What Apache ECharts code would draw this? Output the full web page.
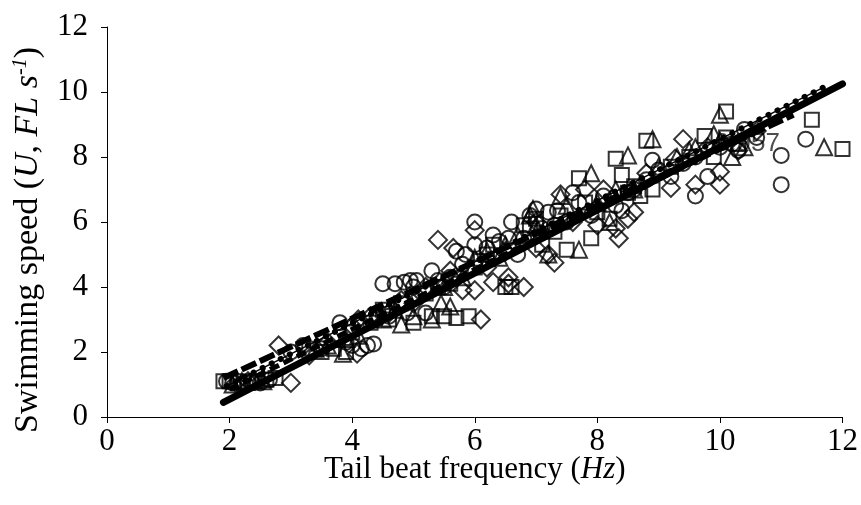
<!DOCTYPE html>
<html><head><meta charset="utf-8">
<script src="https://cdn.jsdelivr.net/npm/echarts@6/dist/echarts.min.js"></script>
<style>html,body{margin:0;padding:0;background:#fff}#c{width:861px;height:505px}</style>
</head><body><div id="c"></div>
<script>
const xTicks = [0, 2, 4, 6, 8, 10, 12];
const yTicks = [0, 2, 4, 6, 8, 10, 12];
const xTitle = ['Tail beat frequency (', 'Hz', ')'];
const yTitle = ['Swimming speed (', 'U', ', ', 'FL s', '-1', ')'];

const circles = [[1.95,1.1],[2.05,1.05],[2.2,1.0],[2.35,1.1],[2.5,1.05],[2.65,1.15],[3.5,2.1],[3.8,2.9],[3.9,2.3],[4.0,2.2],[4.15,2.1],[4.25,2.2],[4.35,2.25],[4.5,4.1],[4.7,4.1],[4.85,4.15],[4.95,4.2],[5.05,4.2],[4.6,3.1],[4.9,3.2],[5.2,3.2],[5.4,4.2],[5.5,4.0],[5.6,4.3],[5.7,5.1],[5.85,5.0],[6.0,5.3],[6.0,6.0],[6.2,5.2],[6.4,5.4],[6.55,5.5],[6.6,6.0],[6.7,5.0],[6.9,6.2],[7.0,6.4],[7.2,6.3],[7.35,6.35],[7.1,5.8],[7.5,6.0],[7.7,6.6],[7.9,6.2],[8.1,6.8],[8.3,6.5],[8.4,6.35],[8.6,7.0],[8.8,7.3],[9.0,7.6],[9.2,7.4],[9.4,7.8],[9.6,6.8],[9.8,7.4],[9.6,8.0],[10.0,8.3],[10.2,8.4],[10.4,8.85],[10.6,8.6],[11.0,8.05],[11.0,7.15],[11.4,8.55],[3.0,2.0],[3.2,2.2],[5.3,4.5],[6.3,5.6],[7.6,6.9],[8.9,7.9],[10.3,8.2],[5.0,4.0],[6.8,5.5],[4.4,3.0],[5.8,4.7],[7.3,5.9],[8.5,6.9]];
const squares = [[1.9,1.1],[2.0,1.1],[2.15,1.1],[2.3,1.05],[2.45,1.1],[2.6,1.15],[2.75,1.2],[3.5,2.0],[3.7,2.1],[3.9,2.0],[4.0,2.6],[4.3,2.9],[4.6,3.0],[5.0,2.9],[5.3,3.1],[5.5,3.1],[5.7,3.05],[5.9,3.1],[5.2,3.8],[5.6,4.1],[6.0,4.6],[6.2,5.0],[6.5,4.0],[6.6,4.0],[6.3,5.3],[6.9,5.8],[7.0,6.1],[7.1,5.3],[7.3,5.7],[7.5,5.15],[7.4,6.2],[7.7,7.35],[7.9,5.5],[8.0,6.3],[8.3,7.95],[8.4,7.45],[8.6,7.1],[8.2,6.1],[8.5,6.9],[8.8,8.5],[8.9,7.0],[9.2,7.7],[9.5,8.0],[9.75,8.65],[9.9,8.0],[10.1,9.4],[10.1,8.6],[10.3,8.4],[11.5,9.15],[12.0,8.25],[4.8,3.5],[6.8,5.9],[7.8,6.6],[8.7,6.8],[3.3,2.1],[4.5,3.3],[5.4,4.0],[6.1,4.8]];
const triangles = [[2.05,1.0],[2.2,1.1],[2.4,1.15],[2.55,1.1],[3.4,2.1],[3.6,2.2],[3.85,1.95],[4.1,2.5],[4.5,3.0],[4.8,2.85],[5.0,3.1],[5.3,3.0],[5.45,3.5],[5.5,4.0],[5.8,4.3],[6.0,4.9],[6.2,5.1],[6.5,5.3],[6.9,6.2],[6.95,6.4],[7.0,5.9],[7.2,5.0],[7.4,6.8],[7.7,5.15],[7.9,7.5],[8.0,6.6],[8.2,6.0],[8.5,8.05],[8.6,7.0],[8.9,8.55],[9.0,7.7],[9.3,8.0],[9.6,8.3],[9.9,8.7],[10.0,9.3],[10.0,8.5],[10.2,8.0],[10.4,8.3],[11.7,8.3],[5.6,3.4],[6.7,5.6],[7.5,6.5],[8.3,7.0],[9.5,8.2],[3.9,2.4],[4.7,3.3],[6.4,4.9]];
const diamonds = [[2.1,1.05],[2.3,1.1],[2.8,2.2],[3.0,1.05],[3.3,1.9],[3.6,2.3],[4.0,2.8],[4.1,3.0],[4.08,1.95],[4.3,3.1],[4.6,3.2],[5.0,3.5],[5.4,5.45],[5.65,5.2],[5.8,3.9],[6.0,5.75],[6.1,3.0],[6.0,3.9],[6.3,4.15],[6.55,4.3],[6.55,4.1],[6.8,4.0],[6.5,5.1],[7.0,5.2],[7.2,5.0],[7.3,4.75],[7.4,6.85],[7.6,6.0],[7.8,7.0],[8.0,5.9],[8.3,5.8],[8.35,5.5],[8.5,6.1],[8.6,6.3],[8.1,7.0],[9.2,7.05],[9.27,7.95],[9.4,8.55],[9.6,7.15],[10.0,7.15],[10.0,7.55],[10.3,8.2],[10.6,8.8],[5.2,4.0],[5.6,4.5],[7.0,6.0],[8.8,7.5],[9.8,8.3],[4.8,3.6],[6.2,4.6]];

const solidLine = [[1.9,0.45],[12.0,10.25]];
const dotLine = [[1.95,0.95],[11.7,10.15]];
const longDashLine = [[1.9,1.2],[11.2,9.3]];
const dashLine = [[2.0,0.85],[10.5,8.7]];
const r2Point = [[10.98,8.4]];
const r2Text = '0.957';

const chart = echarts.init(document.getElementById('c'));
const serif = 'Liberation Serif';
const hollow = {color:'rgba(0,0,0,0)', borderColor:'#000', borderWidth:2};
function sc(data, symbol, size){
  return {type:'scatter', data, symbol, symbolSize:size, itemStyle:hollow, z:3, silent:true};
}
function ln(data, lineStyle, z){
  return {type:'line', data, symbol:'none', lineStyle:Object.assign({color:'#000'}, lineStyle), z:z||4, silent:true, animation:false};
}
const titleRich = {
  n:{fontFamily:serif,fontSize:34,color:'#000'},
  i:{fontFamily:serif,fontSize:34,fontStyle:'italic',color:'#000'},
  s:{fontFamily:serif,fontSize:20,fontStyle:'italic',color:'#000',verticalAlign:'top',padding:[0,0,14,0]}
};
chart.setOption({
  animation:false,
  grid:{left:107, right:16, top:27, bottom:88},
  graphic:[{type:'text', x:28, y:240, rotation:Math.PI/2, silent:true,
    style:{text:'{n|'+yTitle[0]+'}{i|'+yTitle[1]+'}{n|'+yTitle[2]+'}{i|'+yTitle[3]+'}{s|'+yTitle[4]+'}{n|'+yTitle[5]+'}',
      align:'center', verticalAlign:'middle', rich:titleRich}}],
  xAxis:{type:'value', min:0, max:12, interval:2,
    name:'{n|'+xTitle[0]+'}{i|'+xTitle[1]+'}{n|'+xTitle[2]+'}', nameLocation:'middle', nameGap:37, nameMoveOverlap:false,
    nameTextStyle:{rich:{n:{fontFamily:serif,fontSize:31,color:'#000'},i:{fontFamily:serif,fontSize:31,fontStyle:'italic',color:'#000'}}},
    axisLine:{lineStyle:{color:'#000',width:1}}, axisTick:{length:6,lineStyle:{color:'#000'}},
    splitLine:{show:false},
    axisLabel:{fontFamily:serif,fontSize:31,color:'#000',margin:9,
      formatter:v=>xTicks.includes(v)?String(v):''}},
  yAxis:{type:'value', min:0, max:12, interval:2,
    axisLine:{show:true,lineStyle:{color:'#000',width:1}}, axisTick:{show:true,length:6,lineStyle:{color:'#000'}},
    splitLine:{show:false},
    axisLabel:{fontFamily:serif,fontSize:31,color:'#000',margin:19,
      formatter:v=>yTicks.includes(v)?String(v):''}},
  series:[
    {type:'scatter', data:r2Point, symbolSize:0, z:1, silent:true,
      label:{show:true, formatter:r2Text, position:'inside', align:'right', verticalAlign:'middle',
        fontFamily:'Liberation Sans', fontSize:26, color:'#222'}},
    sc(circles,'circle',15),
    sc(squares,'rect',14),
    sc(triangles,'triangle',16),
    sc(diamonds,'diamond',18),
    ln(dashLine,{width:5,type:[10,5]}),
    ln(longDashLine,{width:6,type:[16,4]}),
    ln(solidLine,{width:7,cap:'round'}),
    ln(dotLine,{width:1.5}),
    ln(dotLine,{width:6,type:[0.1,10],cap:'round'})
  ]
});
</script></body></html>
